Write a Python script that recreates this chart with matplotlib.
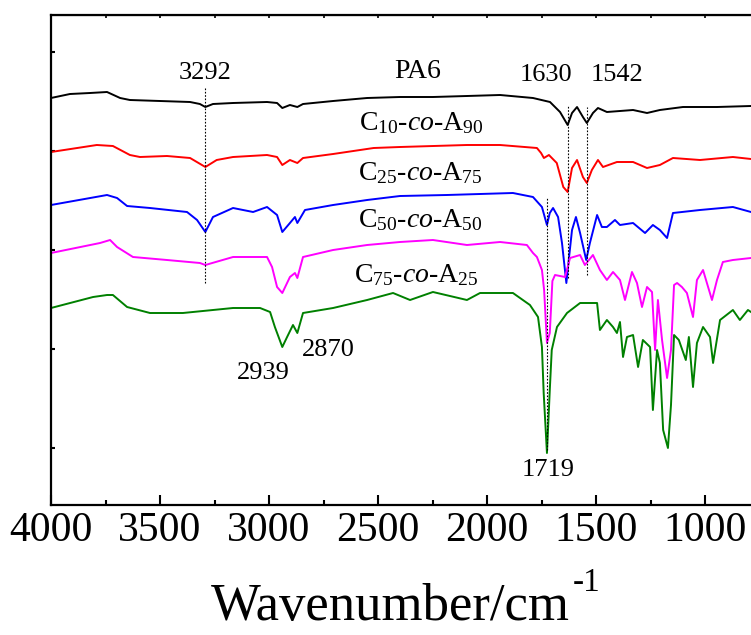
import numpy as np
import matplotlib
matplotlib.use("Agg")
import matplotlib.pyplot as plt
import matplotlib.ticker as ticker

plt.rcParams['font.family'] = ['Liberation Serif', 'DejaVu Serif']
plt.rcParams['mathtext.fontset'] = 'custom'
plt.rcParams['mathtext.rm'] = 'Liberation Serif'
plt.rcParams['mathtext.it'] = 'Liberation Serif:italic'

# spectra, offset transmittance (a.u.)
wn_pa6 = [4000, 4000, 3913, 3821, 3743, 3683, 3638, 3500, 3362, 3317, 3292, 3257, 3165, 3009, 2963,
          2939, 2904, 2870, 2844, 2706, 2550, 2399, 2248, 2092, 1940, 1789, 1711, 1665, 1630,
          1610, 1587, 1560, 1542, 1514, 1491, 1450, 1330, 1266, 1207, 1101, 945, 789]
t_pa6 = [0, 407, 411, 412, 413, 407, 405, 404, 403, 401, 398, 401, 402, 403, 402,
         397, 400, 398, 401, 404, 407, 408, 408, 409, 410, 407, 403, 393, 380,
         392, 398, 388, 382, 392, 397, 393, 395, 392, 395, 398, 398, 399]

wn_c10 = [4000, 4000, 3790, 3716, 3638, 3592, 3468, 3362, 3292, 3240, 3165, 3009, 2963, 2939, 2904,
          2870, 2844, 2706, 2520, 2399, 2092, 1940, 1771, 1752, 1739, 1716, 1680, 1650, 1630,
          1610, 1587, 1560, 1542, 1519, 1491, 1468, 1404, 1330, 1266, 1207, 1147, 1023, 872, 789]
t_c10 = [0, 353, 360, 359, 350, 348, 349, 347, 338, 345, 348, 350, 348, 340, 345,
         342, 347, 351, 357, 358, 360, 360, 357, 352, 347, 350, 342, 318, 313,
         337, 345, 328, 322, 335, 345, 338, 343, 343, 337, 340, 347, 345, 348, 346]

wn_c25 = [4000, 4000, 3743, 3697, 3651, 3546, 3376, 3330, 3292, 3257, 3165, 3073, 3009, 2963, 2939,
          2904, 2881, 2870, 2835, 2706, 2550, 2399, 2184, 1881, 1789, 1748, 1725, 1712, 1697,
          1674, 1656, 1636, 1625, 1610, 1592, 1573, 1545, 1528, 1495, 1473, 1450, 1413, 1390,
          1330, 1275, 1239, 1207, 1174, 1147, 1023, 872, 789]
t_c25 = [0, 300, 310, 307, 299, 297, 293, 285, 273, 288, 297, 293, 298, 290, 273,
         282, 288, 282, 295, 300, 305, 309, 310, 312, 308, 298, 280, 292, 297,
         288, 262, 222, 245, 275, 288, 272, 245, 262, 290, 278, 278, 285, 280,
         282, 272, 280, 275, 267, 292, 295, 298, 293]

wn_c50 = [4000, 4000, 3775, 3729, 3697, 3624, 3468, 3317, 3292, 3165, 3009, 2986, 2963, 2939, 2904,
          2881, 2870, 2844, 2706, 2550, 2399, 2248, 2092, 1940, 1817, 1789, 1771, 1748, 1738,
          1725, 1712, 1700, 1688, 1642, 1619, 1573, 1551, 1514, 1482, 1450, 1422, 1390, 1367,
          1335, 1312, 1289, 1266, 1243, 1229, 1216, 1197, 1174, 1156, 1142, 1128, 1106, 1083,
          1055, 1037, 1009, 968, 945, 918, 872, 789]
t_c50 = [0, 252, 262, 265, 258, 248, 245, 242, 240, 248, 248, 238, 218, 212, 228,
         232, 227, 248, 255, 260, 263, 265, 260, 263, 260, 252, 248, 235, 215,
         162, 172, 224, 230, 228, 247, 250, 240, 250, 235, 225, 233, 225, 205,
         233, 222, 198, 218, 213, 155, 205, 165, 127, 155, 220, 222, 218, 212,
         188, 225, 235, 205, 225, 243, 245, 247]

wn_c75 = [4000, 4000, 3807, 3743, 3716, 3651, 3546, 3395, 3165, 3041, 2995, 2973, 2939, 2917, 2890,
          2870, 2844, 2706, 2550, 2431, 2353, 2248, 2092, 2032, 1881, 1803, 1766, 1748, 1740,
          1725, 1712, 1703, 1679, 1633, 1573, 1495, 1482, 1450, 1422, 1404, 1390, 1376, 1358,
          1330, 1307, 1285, 1252, 1239, 1220, 1207, 1192, 1170, 1156, 1142, 1120, 1088, 1074,
          1055, 1037, 1009, 977, 963, 931, 872, 840, 803, 789]
t_c75 = [0, 197, 208, 210, 210, 198, 192, 192, 197, 197, 193, 178, 158, 168, 180,
         172, 192, 197, 205, 212, 205, 213, 205, 212, 212, 200, 188, 158, 112,
         52, 115, 155, 178, 192, 202, 202, 175, 185, 178, 172, 183, 148, 168,
         170, 138, 165, 158, 95, 155, 142, 75, 57, 100, 170, 165, 145, 168,
         118, 162, 178, 168, 142, 185, 195, 185, 195, 193]

series = [(wn_pa6, t_pa6, 'black'), (wn_c10, t_c10, '#ff0000'), (wn_c25, t_c25, '#0000ff'),
          (wn_c50, t_c50, '#ff00ff'), (wn_c75, t_c75, '#008000')]

curve_labels = ['PA6', r'C$_{10}$-$\mathit{co}$-A$_{90}$', r'C$_{25}$-$\mathit{co}$-A$_{75}$',
                r'C$_{50}$-$\mathit{co}$-A$_{50}$', r'C$_{75}$-$\mathit{co}$-A$_{25}$']
label_pos = [(2317, 427), (2303, 375), (2308, 325), (2308, 278), (2326, 223)]

peaks = ['3292', '1630', '1542', '2939', '2870', '1719']
peak_pos = [(3292, 432), (1730, 430), (1404, 430), (3027, 132), (2729, 155), (1720, 35)]
# dotted guide lines: (wavenumber, y from, y to)
guides = [(3292, 222, 417), (1630, 227, 400), (1542, 230, 398), (1725, 55, 307)]

xticks = [4000, 3500, 3000, 2500, 2000, 1500, 1000]

fig = plt.figure(figsize=(7.51, 6.35), dpi=100)
ax = fig.add_axes([51/751, 130/635, 3600*0.218/751, 490/635])

for wn, t, c in series:
    ax.plot(wn, t, color=c, lw=1.4)

for g in guides:
    ax.plot([g[0], g[0]], [g[1], g[2]], color='black', lw=0.8, ls=(0, (1.5, 1.5)))

for lab, (x, y) in zip(curve_labels, label_pos):
    ax.text(x, y, lab, ha='center', va='baseline', fontsize=20)
for lab, (x, y) in zip(peaks, peak_pos):
    ax.text(x, y, lab, ha='center', va='center', fontsize=19)

ax.set_xlim(4000, 400)
ax.set_ylim(0, 490)
ax.set_xticks(xticks)
ax.xaxis.set_minor_locator(ticker.MultipleLocator(250))
ax.set_yticks([57, 156, 255, 354, 453])
ax.set_yticklabels([])
ax.tick_params(axis='x', which='major', direction='in', length=7, width=1.5, labelsize=30, pad=5)
ax.tick_params(axis='x', which='minor', direction='in', length=3.5, width=1.5)
ax.tick_params(axis='y', direction='in', length=3, width=1.5)
for s in ax.spines.values():
    s.set_linewidth(1.6)

top = ax.secondary_xaxis('top')
top.xaxis.set_major_locator(ticker.MultipleLocator(250))
top.tick_params(direction='in', length=2.5, width=1.2, labeltop=False)

# axis title, placed on the figure since the axes run past the right edge
fig.text(390/751, 15/635, 'Wavenumber/cm', ha='center', va='baseline', fontsize=38)
fig.text(573/751, 44/635, '-1', ha='left', va='baseline', fontsize=24)

fig.savefig('out.png', dpi=100)
